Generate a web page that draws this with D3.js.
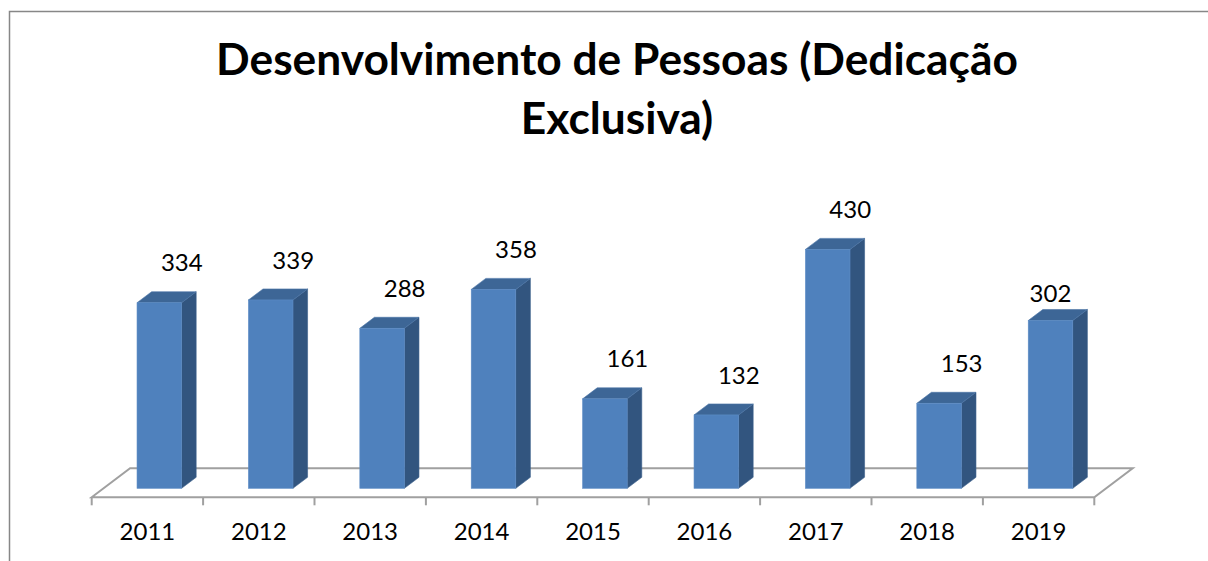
<!DOCTYPE html>
<html>
<head>
<meta charset="utf-8">
<script src="https://cdn.jsdelivr.net/npm/d3@7"></script>
<style>
  body { margin: 0; background: #fff; }
  svg { display: block; }
</style>
</head>
<body>
<div id="chart"></div>
<script>
// dados - data
var years = ['2011', '2012', '2013', '2014', '2015', '2016', '2017', '2018', '2019'];
var values = [334, 339, 288, 358, 161, 132, 430, 153, 302];
var titleLines = ['Desenvolvimento de Pessoas (Dedicação', 'Exclusiva)'];

var width = 1208;
var height = 561;
var font = 'Lato, Open Sans, sans-serif';
var labelSize = '24px';

var svg = d3
.select('#chart')
.append('svg')
.attr('width', width)
.attr('height', height)
;

// moldura - outer frame (cut at right and bottom)
svg
.append('path')
.attr('d', 'M9.5,' + height + 'V11.5H' + width)
.attr('fill', 'none')
.attr('stroke', '#878787')
.attr('stroke-width', 1.5)
;

// titulo
var title = svg
.append('g')
.attr('font-family', font)
.attr('font-weight', 'bold')
.attr('fill', '#000')
.attr('text-anchor', 'middle')
;

var t1 = title
.append('text')
.text(titleLines[0])
.attr('x', 617)
.attr('y', 75)
.attr('font-size', '40px')
;

// fit first line to the width of the original
var fs = 40 * 802 / t1.node().getComputedTextLength();
t1.attr('font-size', fs + 'px');

title
.append('text')
.text(titleLines[1])
.attr('x', 617)
.attr('y', 134)
.attr('font-size', fs + 'px')
;

// plano 3d - floor
var floorLeft = 91.7, floorRight = 1094.3, floorY = 497.3;
var depthX = 38.4, depthY = -29;

var x = d3.scaleBand()
.domain(years)
.range([floorLeft, floorRight])
;

var h = d3.scaleLinear()
.domain([0, 500])
.range([0, 277.8])
;

svg
.append('path')
.attr('d', 'M' + floorLeft + ',' + floorY +
  'L' + (floorLeft + depthX) + ',' + (floorY + depthY) +
  'H' + (floorRight + depthX) +
  'L' + floorRight + ',' + floorY + 'Z')
.attr('fill', '#fff')
.attr('stroke', '#a0a0a0')
.attr('stroke-width', 2)
;

// ticks at band boundaries
var bounds = years.map(function(d){ return x(d); }).concat([floorRight]);

svg
.append('g')
.selectAll('line')
.data(bounds)
.join('line')
.attr('x1', function(d){ return d; })
.attr('x2', function(d){ return d; })
.attr('y1', floorY)
.attr('y2', floorY + 8)
.attr('stroke', '#a0a0a0')
.attr('stroke-width', 2)
;

// rotulos do eixo - axis labels
var axis = d3.axisBottom(x).tickSize(0).tickPadding(26);

svg
.append('g')
.attr('transform', 'translate(0,' + floorY + ')')
.call(axis)
.call(function(g){ g.select('.domain').remove(); })
.selectAll('text')
.attr('font-family', font)
.attr('font-size', labelSize)
.attr('fill', '#000')
;

// barras 3d - bars
var d0 = 0.31, d1 = 0.69;
var bw = x.bandwidth() * 0.4;
var bdx = (d1 - d0) * depthX, bdy = (d1 - d0) * depthY;

var bars = svg
.append('g')
.selectAll('g')
.data(values)
.join('g')
;

function frontX(d, i) {
  return x(years[i]) + d0 * depthX + (x.bandwidth() - bw) / 2;
}
var baseY = floorY + d0 * depthY;

// side
bars
.append('path')
.attr('d', function(d, i){
  var x1 = frontX(d, i) + bw, top = baseY - h(d);
  return 'M' + x1 + ',' + baseY + 'V' + top +
    'l' + bdx + ',' + bdy + 'V' + (baseY + bdy) + 'Z';
})
.attr('fill', '#32557f')
.attr('stroke', '#3a5f8c')
.attr('stroke-width', 0.6)
;

// top
bars
.append('path')
.attr('d', function(d, i){
  var x0 = frontX(d, i), top = baseY - h(d);
  return 'M' + x0 + ',' + top + 'h' + bw +
    'l' + bdx + ',' + bdy + 'h' + (-bw) + 'Z';
})
.attr('fill', '#3d6696')
.attr('stroke', '#4a74a6')
.attr('stroke-width', 0.6)
;

// front
bars
.append('rect')
.attr('x', function(d, i){ return frontX(d, i); })
.attr('y', function(d){ return baseY - h(d); })
.attr('width', bw)
.attr('height', function(d){ return h(d); })
.attr('fill', '#4f81bd')
.attr('stroke', '#5d8cc5')
.attr('stroke-width', 0.6)
;

// valores - data labels (the last one sits lower, centred on its bar)
var last = values.length - 1;

bars
.append('text')
.text(function(d){ return d; })
.attr('x', function(d, i){ return frontX(d, i) + bw / 2 + (i === last ? 0 : 22.5); })
.attr('y', function(d, i){ return baseY - h(d) - (i === last ? 27 : 40); })
.attr('dy', '0.36em')
.attr('text-anchor', 'middle')
.attr('font-family', font)
.attr('font-size', labelSize)
.attr('fill', '#000')
;
</script>
</body>
</html>
